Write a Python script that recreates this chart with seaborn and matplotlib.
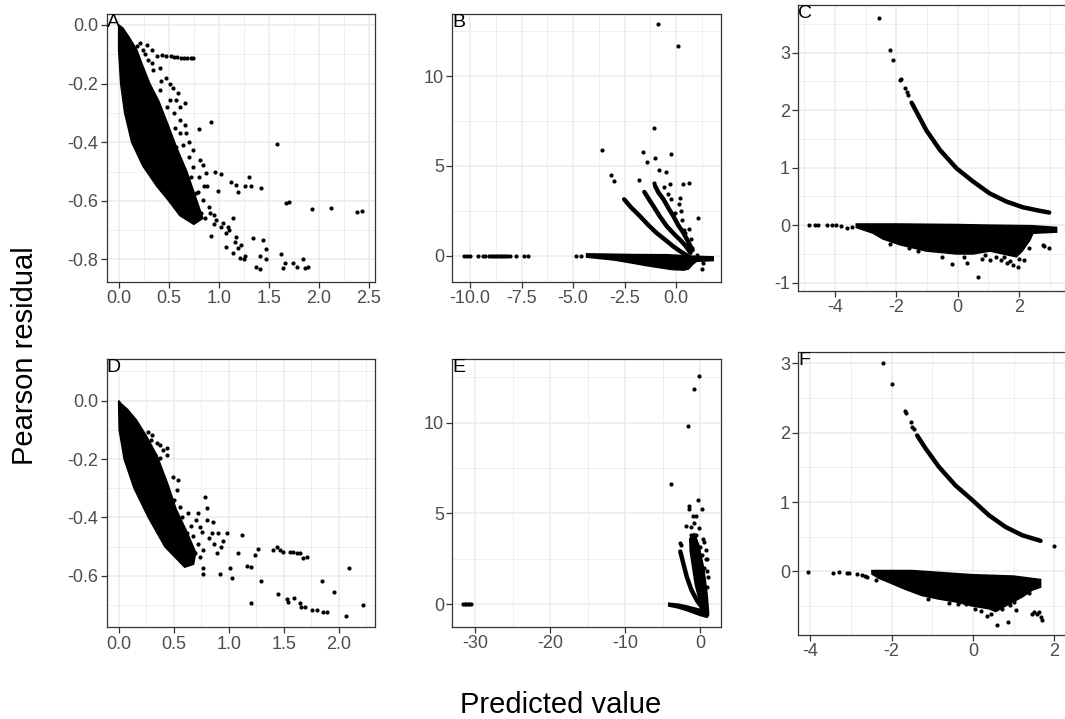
import numpy as np
import pandas as pd
import matplotlib
matplotlib.use("Agg")
import matplotlib.pyplot as plt
import seaborn as sns
from matplotlib.ticker import FixedLocator, FixedFormatter

# ---------------- data ----------------
# Panel A
A_core = [(0, 0), (0.0, -0.085), (0.02, -0.2), (0.06, -0.3), (0.13, -0.4), (0.24, -0.48),
          (0.38, -0.55), (0.50, -0.60), (0.61, -0.65), (0.75, -0.68), (0.84, -0.66),
          (0.76, -0.58), (0.68, -0.50), (0.58, -0.42), (0.48, -0.33), (0.40, -0.26), (0.31, -0.20),
          (0.24, -0.14), (0.18, -0.085), (0.10, -0.04), (0.04, -0.01)]
A_points = [(0.335, -0.085), (0.38, -0.105), (0.43, -0.104), (0.47, -0.105), (0.52, -0.107), (0.55, -0.108),
            (0.58, -0.11), (0.62, -0.111), (0.65, -0.112), (0.68, -0.113), (0.72, -0.114), (0.74, -0.113),
            (0.925, -0.33), (0.80, -0.355), (1.58, -0.406), (0.96, -0.50), (1.02, -0.51), (0.995, -0.567),
            (0.885, -0.548), (1.12, -0.535), (1.17, -0.546), (1.19, -0.569), (1.26, -0.548), (1.32, -0.548),
            (1.30, -0.518), (1.42, -0.555), (1.67, -0.609), (1.70, -0.604), (1.93, -0.627), (2.12, -0.623),
            (2.38, -0.638), (2.43, -0.635),
            (0.91, -0.643), (0.975, -0.666), (1.04, -0.677), (1.09, -0.688), (1.14, -0.66), (1.075, -0.711),
            (1.17, -0.722), (1.22, -0.75), (1.075, -0.757), (1.14, -0.779), (1.21, -0.796), (1.26, -0.79),
            (1.34, -0.728), (1.44, -0.734), (1.41, -0.79), (1.47, -0.799), (1.37, -0.825), (1.41, -0.834),
            (1.47, -0.766), (1.62, -0.782), (1.64, -0.83), (1.66, -0.813), (1.74, -0.813), (1.78, -0.825),
            (1.84, -0.80), (1.86, -0.83), (1.89, -0.825), (0.925, -0.719), (1.10, -0.70), (1.16, -0.74),
            (1.19, -0.76), (1.02, -0.69), (0.95, -0.68), (1.25, -0.80),
            (0.61, -0.28), (0.66, -0.267), (0.544, -0.216), (0.577, -0.256), (0.51, -0.20), (0.41, -0.148),
            (0.477, -0.18), (0.61, -0.324), (0.676, -0.37), (0.74, -0.427), (0.81, -0.46), (0.84, -0.478),
            (0.875, -0.506), (0.74, -0.483), (0.776, -0.575), (0.84, -0.597), (0.61, -0.37), (0.577, -0.415),
            (0.21, -0.063), (0.28, -0.068), (0.295, -0.12), (0.345, -0.154), (0.41, -0.222),
            (0.51, -0.256), (0.59, -0.233), (0.55, -0.30), (0.64, -0.41), (0.70, -0.45),
            (0.80, -0.52), (0.85, -0.55), (0.90, -0.62), (0.82, -0.64), (0.86, -0.66), (0.95, -0.65),
            (0.70, -0.40), (0.66, -0.34), (0.56, -0.35), (0.48, -0.28), (0.42, -0.19), (0.33, -0.13),
            (0.26, -0.10), (0.18, -0.07), (0.24, -0.085), (0.72, -0.52), (0.79, -0.57)]

# Panel B
B_band = [(-4.34, 0.09), (-2.07, 0.05), (-0.45, 0.04), (0.52, -0.02), (1.0, -0.05), (1.8, -0.08),
          (1.8, -0.28), (1.0, -0.32), (0.84, -0.45), (0.6, -0.75), (0.36, -0.81), (-0.2, -0.78),
          (-0.78, -0.68), (-1.5, -0.55), (-2.07, -0.43), (-3.0, -0.25), (-4.34, -0.09)]
B_curve1_x = [-2.52, -2.2, -1.75, -1.35, -0.94, -0.5, -0.13, 0.25, 0.6]
B_curve1_y = [3.13, 2.7, 2.19, 1.7, 1.25, 0.85, 0.5, 0.2, -0.05]
B_curve2_x = [-1.54, -1.3, -1.1, -0.8, -0.45, -0.1, 0.19, 0.45, 0.7]
B_curve2_y = [3.54, 3.1, 2.75, 2.2, 1.63, 1.2, 0.88, 0.55, 0.15]
B_curve3_x = [-1.02, -0.85, -0.61, -0.35, -0.13, 0.1, 0.36, 0.55, 0.8]
B_curve3_y = [3.88, 3.5, 3.13, 2.6, 2.19, 1.7, 1.25, 0.85, 0.3]
B_points = [(-10.3, 0), (-10.15, 0), (-10.0, 0), (-9.6, 0), (-9.35, 0), (-9.25, 0), (-9.1, 0), (-9.0, 0),
            (-8.9, 0), (-8.8, 0), (-8.7, 0), (-8.6, 0), (-8.5, 0), (-8.4, 0), (-8.3, 0), (-8.2, 0),
            (-8.05, 0), (-7.75, 0), (-7.4, 0), (-7.2, 0), (-4.87, 0), (-4.63, 0),
            (-0.86, 12.92), (0.08, 11.7), (-1.05, 7.12), (-3.61, 5.88), (-1.59, 5.79), (-1.0, 5.41),
            (-1.42, 5.19), (-0.23, 5.66), (-0.84, 4.78), (-0.49, 4.63), (-3.14, 4.48), (-2.99, 4.16),
            (-1.8, 4.21), (-1.07, 4.06), (-0.29, 3.97), (0.36, 3.97), (0.61, 4.04), (-0.57, 3.84),
            (0.19, 3.22), (1.05, 2.1), (-0.03, 2.38), (0.24, 2.47), (-0.37, 3.41), (-0.26, 3.13),
            (0.65, 1.48), (0.39, 1.44), (0.78, 0.41), (1.02, 0.04), (1.29, -0.43), (1.26, -0.77),
            (0.28, 2.0), (0.44, 1.25), (0.16, 2.85), (0.5, 1.0), (0.6, 0.7), (0.7, 0.9)]

# Panel C
C_curve_x = [-1.50, -1.40, -1.02, -0.58, -0.04, 0.50, 1.05, 1.59, 2.13, 2.67, 2.98]
C_curve_y = [2.13, 2.03, 1.65, 1.31, 0.99, 0.76, 0.55, 0.41, 0.31, 0.25, 0.22]
C_band = [(-3.3, 0.02), (-2.0, 0.02), (0.0, 0.01), (1.0, 0.0), (2.4, -0.01), (3.22, -0.04),
          (3.22, -0.12), (2.45, -0.14), (2.35, -0.26), (2.1, -0.45), (1.91, -0.55), (1.48, -0.50),
          (1.05, -0.45), (0.5, -0.50), (-0.04, -0.50), (-1.02, -0.45), (-1.88, -0.34), (-2.43, -0.24),
          (-2.75, -0.14), (-3.08, -0.08), (-3.3, -0.04)]
C_points = [(-2.56, 3.61), (-2.22, 3.05), (-2.11, 2.88), (-1.86, 2.54), (-1.88, 2.52), (-1.72, 2.38),
            (-1.66, 2.32), (-1.61, 2.26),
            (-4.84, 0), (-4.65, 0), (-4.54, 0), (-4.24, 0), (-4.1, 0), (-3.95, 0), (-3.8, -0.01),
            (-3.6, -0.05), (-3.45, -0.03),
            (-0.17, -0.68), (0.65, -0.91), (0.29, -0.66), (1.05, -0.61), (1.25, -0.55), (1.59, -0.66),
            (1.97, -0.72), (2.17, -0.60), (2.33, -0.39), (2.78, -0.35), (2.82, -0.37), (2.97, -0.39),
            (1.4, -0.60), (1.8, -0.70), (1.7, -0.62), (0.8, -0.58), (-0.5, -0.55), (-1.3, -0.45),
            (-1.6, -0.40), (0.2, -0.55), (1.5, -0.55), (2.0, -0.58), (-2.2, -0.33), (0.9, -0.52)]

# Panel D
D_core = [(0, 0), (0.005, -0.10), (0.05, -0.20), (0.14, -0.30), (0.27, -0.40), (0.42, -0.50),
          (0.60, -0.57), (0.68, -0.56), (0.70, -0.52), (0.62, -0.45), (0.52, -0.37), (0.45, -0.29),
          (0.35, -0.19), (0.25, -0.12), (0.16, -0.066), (0.08, -0.03), (0.02, -0.01)]
D_points = [(0.17, -0.091), (0.194, -0.112), (0.224, -0.129), (0.27, -0.107), (0.30, -0.118),
            (0.345, -0.146), (0.376, -0.151), (0.406, -0.169), (0.436, -0.186), (0.33, -0.186),
            (0.376, -0.197), (0.436, -0.163), (0.25, -0.14), (0.29, -0.135),
            (0.497, -0.26), (0.542, -0.271), (0.527, -0.306), (0.558, -0.363), (0.633, -0.383),
            (0.724, -0.386), (0.80, -0.368), (0.785, -0.331), (0.80, -0.408), (0.86, -0.414),
            (0.906, -0.454), (0.952, -0.482), (0.982, -0.454), (0.739, -0.431), (0.679, -0.465),
            (0.77, -0.511), (0.739, -0.534), (0.77, -0.574), (0.694, -0.522), (0.618, -0.454),
            (0.845, -0.454), (0.891, -0.522), (0.70, -0.41), (0.76, -0.45), (0.82, -0.47), (0.66, -0.43),
            (0.58, -0.40), (0.62, -0.50), (0.72, -0.49), (0.87, -0.49), (0.93, -0.50), (0.50, -0.34),
            (0.764, -0.594), (0.921, -0.593), (1.012, -0.574), (1.027, -0.608), (1.088, -0.52),
            (1.121, -0.46), (1.164, -0.566), (1.20, -0.568), (1.242, -0.528), (1.27, -0.508),
            (1.203, -0.694), (1.291, -0.617), (1.406, -0.511), (1.436, -0.502), (1.467, -0.511),
            (1.497, -0.517), (1.558, -0.519), (1.588, -0.519), (1.618, -0.52), (1.648, -0.522),
            (1.679, -0.54), (1.715, -0.534), (1.445, -0.663), (1.527, -0.68), (1.536, -0.691),
            (1.594, -0.676), (1.648, -0.694), (1.661, -0.705), (1.694, -0.707), (1.761, -0.716),
            (1.806, -0.716), (1.861, -0.724), (1.891, -0.724), (1.845, -0.616), (1.958, -0.656),
            (2.094, -0.574), (2.064, -0.736), (2.218, -0.699)]

# Panel E
E_band = [(-4.2, 0.05), (-3.0, 0.0), (-1.8, -0.1), (-0.4, -0.25), (0.9, -0.35), (1.1, -0.6),
          (0.9, -0.72), (0.0, -0.62), (-1.8, -0.35), (-3.0, -0.2), (-4.2, -0.1)]
E_column = [(-1.4, 3.6), (-0.8, 3.9), (-0.22, 3.26), (0.44, 2.0), (0.89, 0.57), (1.1, -0.5),
            (0.44, -0.68), (0.0, 0.0), (-0.67, 1.1), (-1.33, 2.9)]
E_curve_x = [-2.67, -2.3, -1.8, -1.2, -0.44, 0.44]
E_curve_y = [2.9, 2.3, 1.5, 0.8, 0.2, -0.3]
E_points = [(-31.6, 0), (-31.4, 0), (-31.2, 0), (-31.0, 0), (-30.8, 0), (-30.6, 0),
            (-3.87, 6.61), (-1.69, 9.82), (-0.84, 11.86), (-0.13, 12.56), (-0.36, 5.71), (0.18, 5.24),
            (-1.56, 5.42), (-1.47, 5.24), (-1.02, 4.88), (-0.58, 4.88), (-1.91, 4.31), (-1.24, 4.25),
            (-0.84, 4.47), (-0.22, 4.22), (-1.2, 3.8), (-0.58, 3.8), (-0.04, 3.17), (0.76, 2.5),
            (0.18, 2.72), (-0.27, 2.18), (0.53, 2.0), (0.84, 0.92), (0.31, 1.28), (-2.71, 3.35),
            (-2.58, 3.26), (0.9, 2.5), (0.7, 3.0), (0.5, 3.4), (1.0, 1.5), (0.95, 1.8), (0.3, 3.6)]

# Panel F
F_curve_x = [-1.37, -1.16, -0.84, -0.43, -0.02, 0.39, 0.80, 1.21, 1.66]
F_curve_y = [1.96, 1.77, 1.51, 1.24, 1.03, 0.81, 0.64, 0.52, 0.44]
F_band = [(-2.48, 0.01), (-1.5, 0.01), (-0.02, -0.05), (1.0, -0.07), (1.66, -0.12),
          (1.66, -0.23), (1.46, -0.27), (1.21, -0.37), (0.8, -0.50), (0.56, -0.58), (0.39, -0.54),
          (-0.02, -0.50), (-0.43, -0.44), (-0.84, -0.40), (-1.25, -0.35), (-1.66, -0.26),
          (-1.98, -0.18), (-2.31, -0.10), (-2.48, -0.04)]
F_points = [(-2.2, 3.0), (-2.0, 2.71), (-1.68, 2.32), (-1.64, 2.28), (-1.53, 2.16), (-1.49, 2.09),
            (-1.45, 2.06), (1.98, 0.37),
            (-4.04, -0.01), (-3.44, -0.02), (-3.3, -0.01), (-3.09, -0.02), (-3.05, -0.02), (-2.84, -0.04),
            (-2.72, -0.06), (-2.64, -0.07), (-2.6, -0.08), (-2.39, -0.13),
            (-0.36, -0.47), (-0.18, -0.47), (0.35, -0.64), (0.6, -0.77), (0.87, -0.73), (0.72, -0.54),
            (0.9, -0.49), (1.05, -0.56), (1.46, -0.61), (1.5, -0.59), (1.58, -0.62), (1.62, -0.59),
            (1.66, -0.66), (1.7, -0.70), (1.38, -0.32), (0.2, -0.58), (0.45, -0.62), (-1.1, -0.40),
            (-0.6, -0.46), (0.05, -0.55), (1.0, -0.45)]

# tick labels
A_xticks = [0.0, 0.5, 1.0, 1.5, 2.0, 2.5]
A_yticks = [0.0, -0.2, -0.4, -0.6, -0.8]
B_xticks = [-10.0, -7.5, -5.0, -2.5, 0.0]
B_yticks = [0, 5, 10]
C_xticks = [-4, -2, 0, 2]
C_yticks = [-1, 0, 1, 2, 3]
D_xticks = [0.0, 0.5, 1.0, 1.5, 2.0]
D_yticks = [0.0, -0.2, -0.4, -0.6]
E_xticks = [-30, -20, -10, 0]
E_yticks = [0, 5, 10]
F_xticks = [-4, -2, 0, 2]
F_yticks = [0, 1, 2, 3]
panel_letters = ["A", "B", "C", "D", "E", "F"]
x_title = "Predicted value"
y_title = "Pearson residual"

# ---------------- style ----------------
sns.set_theme(style="white")
plt.rcParams["font.family"] = ["Liberation Sans", "DejaVu Sans"]
plt.rcParams["axes.unicode_minus"] = False

W, H = 1065, 719
fig = plt.figure(figsize=(W / 100, H / 100), dpi=100)


def box(l, t, r, b):
    return [l / W, 1 - b / H, (r - l) / W, (b - t) / H]


def split(pairs):
    return [p[0] for p in pairs], [p[1] for p in pairs]


GRID = "#EBEBEB"


def style(ax, xlim, ylim, xt, yt, xfmt, yfmt, xminor, yminor, letter):
    ax.set_xlim(*xlim)
    ax.set_ylim(*ylim)
    ax.xaxis.set_major_locator(FixedLocator(xt))
    ax.yaxis.set_major_locator(FixedLocator(yt))
    ax.xaxis.set_major_formatter(FixedFormatter([xfmt.format(v) for v in xt]))
    ax.yaxis.set_major_formatter(FixedFormatter([yfmt.format(v) for v in yt]))
    ax.xaxis.set_minor_locator(FixedLocator(xminor))
    ax.yaxis.set_minor_locator(FixedLocator(yminor))
    ax.grid(True, which="major", color=GRID, lw=1.1, zorder=0)
    ax.grid(True, which="minor", color=GRID, lw=0.55, zorder=0)
    ax.set_axisbelow(True)
    ax.tick_params(which="major", direction="out", length=4, width=0.9, color="#333333",
                   labelsize=13, labelcolor="#4D4D4D", pad=2, bottom=True, left=True)
    ax.tick_params(which="minor", length=0)
    for s in ax.spines.values():
        s.set_color("#333333")
        s.set_linewidth(0.9)
    ax.set_xlabel("")
    ax.set_ylabel("")
    ax.text(0.0, 1.0, letter, transform=ax.transAxes, ha="left", va="top", fontsize=14,
            color="black", zorder=10)


def pts(ax, pairs):
    x, y = split(pairs)
    sns.scatterplot(x=x, y=y, ax=ax, color="black", s=9, linewidth=0, zorder=3)


def poly(ax, pairs):
    x, y = split(pairs)
    ax.fill(x, y, color="black", lw=1.2, zorder=2)


def curve(ax, x, y):
    sns.lineplot(x=x, y=y, ax=ax, color="black", lw=3.2, estimator=None, sort=False,
                 solid_capstyle="round", zorder=3)


# A
axA = fig.add_axes(box(106.7, 14, 375, 281.7))
poly(axA, A_core)
pts(axA, A_points)
style(axA, (-0.12, 2.56), (-0.876, 0.0375), A_xticks, A_yticks, "{:.1f}", "{:.1f}",
      [0.25, 0.75, 1.25, 1.75, 2.25], [-0.1, -0.3, -0.5, -0.7], panel_letters[0])

# B
axB = fig.add_axes(box(452.3, 14, 721, 281.7))
poly(axB, B_band)
curve(axB, B_curve1_x, B_curve1_y)
curve(axB, B_curve2_x, B_curve2_y)
curve(axB, B_curve3_x, B_curve3_y)
pts(axB, B_points)
style(axB, (-10.86, 2.18), (-1.46, 13.46), B_xticks, B_yticks, "{:.1f}", "{:.0f}",
      [-8.75, -6.25, -3.75, -1.25, 1.25], [2.5, 7.5, 12.5], panel_letters[1])

# C
axC = fig.add_axes(box(798.3, 5, 1067, 290.7))
poly(axC, C_band)
curve(axC, C_curve_x, C_curve_y)
pts(axC, C_points)
style(axC, (-5.19, 3.56), (-1.14, 3.83), C_xticks, C_yticks, "{:.0f}", "{:.0f}",
      [-5, -3, -1, 1, 3], [-0.5, 0.5, 1.5, 2.5, 3.5], panel_letters[2])

# D
axD = fig.add_axes(box(106.7, 359.3, 375, 627.3))
poly(axD, D_core)
pts(axD, D_points)
style(axD, (-0.109, 2.33), (-0.776, 0.1416), D_xticks, D_yticks, "{:.1f}", "{:.1f}",
      [0.25, 0.75, 1.25, 1.75, 2.25], [0.1, -0.1, -0.3, -0.5, -0.7], panel_letters[3])

# E
axE = fig.add_axes(box(452.3, 359.3, 721, 626.7))
poly(axE, E_band)
poly(axE, E_column)
curve(axE, E_curve_x, E_curve_y)
pts(axE, E_points)
style(axE, (-33.07, 2.76), (-1.24, 13.48), E_xticks, E_yticks, "{:.0f}", "{:.0f}",
      [-25, -15, -5], [2.5, 7.5, 12.5], panel_letters[4])

# F
axF = fig.add_axes(box(798.3, 351.7, 1067, 635))
poly(axF, F_band)
curve(axF, F_curve_x, F_curve_y)
pts(axF, F_points)
style(axF, (-4.29, 2.31), (-0.92, 3.17), F_xticks, F_yticks, "{:.0f}", "{:.0f}",
      [-3, -1, 1], [-0.5, 0.5, 1.5, 2.5], panel_letters[5])

fig.text(561 / W, 1 - 713 / H, x_title, ha="center", va="baseline", fontsize=21, color="black")
fig.text(25 / W, 1 - 356 / H, y_title, ha="center", va="center", rotation=90, fontsize=21,
         color="black")

fig.savefig("out.png", dpi=100)
